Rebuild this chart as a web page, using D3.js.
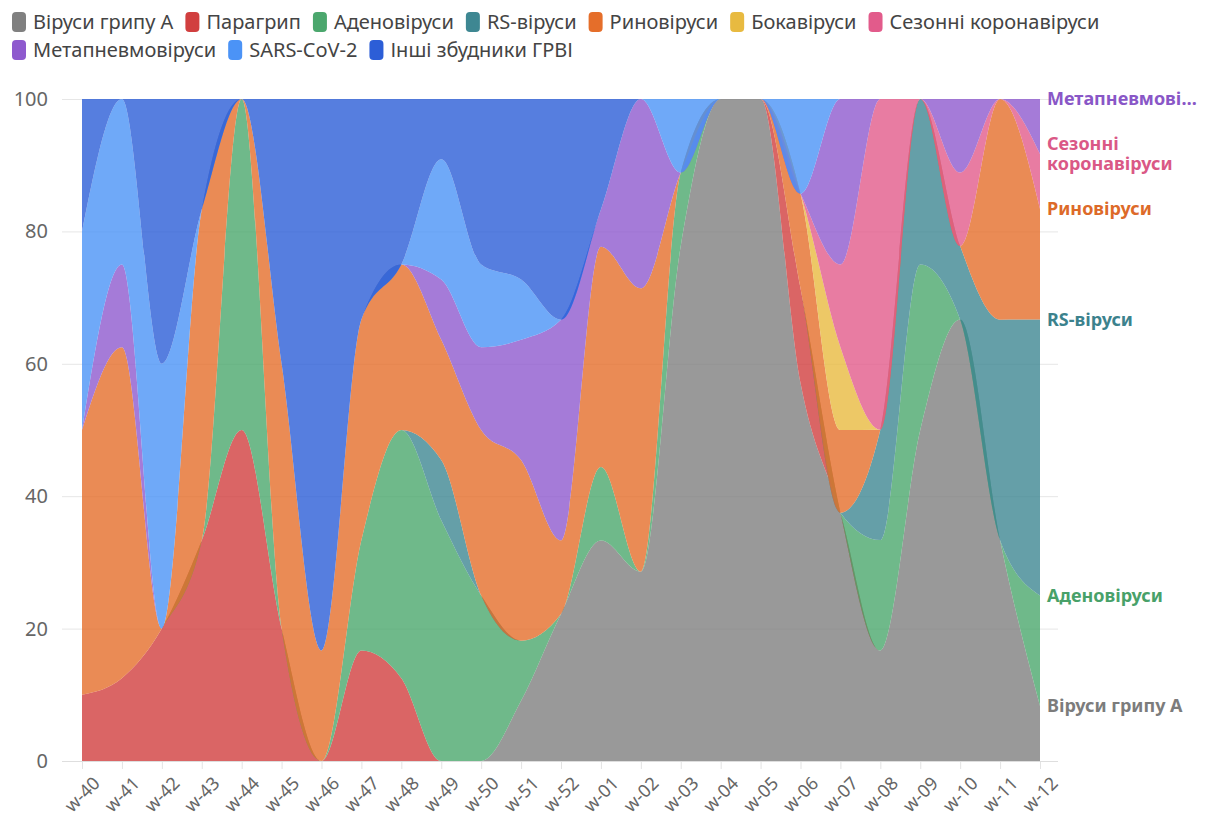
<!DOCTYPE html>
<html>
<head>
<meta charset="utf-8">
<script src="https://cdn.jsdelivr.net/npm/d3@7/dist/d3.min.js"></script>
<style>
  body { margin: 0; background: #fff; }
  svg { font-family: "Noto Sans", sans-serif; }
</style>
</head>
<body>
<svg id="chart" width="1221" height="822"></svg>
<script>
// weeks on the x axis
const weeks = ["w-40","w-41","w-42","w-43","w-44","w-45","w-46","w-47","w-48","w-49","w-50","w-51","w-52",
               "w-01","w-02","w-03","w-04","w-05","w-06","w-07","w-08","w-09","w-10","w-11","w-12"];

const seriesNames = ["Віруси грипу А","Парагрип","Аденовіруси","RS-віруси","Риновіруси","Бокавіруси",
                     "Сезонні коронавіруси","Метапневмовіруси","SARS-CoV-2","Інші збудники ГРВІ"];
const colors = ["#808080","#d13f3f","#4ba76d","#3e8792","#e56e2a","#e8ba40","#e25b8b","#8e5ace","#4b93f6","#2c5ed7"];

// share of positive samples, % (bottom to top of the stack)
const fluA      = [0,0,0,0,0,0,0,0,0,0,0,9.1,22.2,33.3,28.6,77.8,100,100,57.1,37.5,16.7,50,66.7,33.3,8.3];
const paraflu   = [10,12.5,20,33.3,50,20,0,16.7,12.5,0,0,0,0,0,0,0,0,0,14.3,0,0,0,0,0,0];
const adeno     = [0,0,0,0,50,0,0,16.7,37.5,36.4,25,9.1,0,11.1,0,11.1,0,0,0,0,16.7,25,0,0,16.7];
const rsv       = [0,0,0,0,0,0,0,0,0,9.1,0,0,0,0,0,0,0,0,0,0,16.7,25,11.1,33.3,41.7];
const rhino     = [40,50,0,50,0,40,16.7,33.3,25,18.2,25,27.3,11.1,33.3,42.8,0,0,0,14.3,12.5,0,0,0,33.3,16.7];
const boca      = [0,0,0,0,0,0,0,0,0,0,0,0,0,0,0,0,0,0,0,12.5,0,0,0,0,0];
const seasonCov = [0,0,0,0,0,0,0,0,0,0,0,0,0,0,0,0,0,0,0,12.5,50,0,11.1,0,8.3];
const metapneumo= [0,12.5,0,0,0,0,0,0,0,9.1,12.5,18.2,33.3,5.6,28.6,0,0,0,0,25,0,0,11.1,0,8.3];
const sarsCov2  = [30,25,40,0,0,0,0,0,0,18.2,12.5,9.1,0,0,0,11.1,0,0,14.3,0,0,0,0,0,0];
const otherArvi = [20,0,40,16.7,0,40,83.3,33.3,25,9.1,25,27.3,33.3,16.7,0,0,0,0,0,0,0,0,0,0,0];

const yTicks = [0,20,40,60,80,100];

const seriesValues = [fluA, paraflu, adeno, rsv, rhino, boca, seasonCov, metapneumo, sarsCov2, otherArvi];

const table = weeks.map((w, i) => {
    const row = { week: w };
    seriesNames.forEach((s, k) => { row[s] = seriesValues[k][i]; });
    return row;
});

const margin = { left: 82, right: 1040, top: 99, bottom: 761 };
const svg = d3.select("#chart");

const x = d3.scalePoint().domain(weeks).range([margin.left, margin.right]);
const y = d3.scaleLinear().domain([0, 100]).range([margin.bottom, margin.top]);

const stack = d3.stack().keys(seriesNames).offset(d3.stackOffsetExpand);
const layers = stack(table);

// grid + y axis
const gridLeft = 62, gridRight = 1058;
const yAxis = svg.append("g")
    .attr("transform", "translate(" + gridLeft + ",0)")
    .call(d3.axisLeft(y).tickValues(yTicks).tickSize(-(gridRight - gridLeft)).tickPadding(14));
yAxis.select(".domain").remove();
yAxis.selectAll(".tick line").attr("stroke", "#e6e6e6");
yAxis.selectAll(".tick text")
    .attr("fill", "#666")
    .style("font-size", "20px")
    .style("font-family", "'Noto Sans', sans-serif");

// areas
const area = d3.area()
    .x(d => x(d.data.week))
    .y0(d => y(d[0] * 100))
    .y1(d => y(d[1] * 100))
    .curve(d3.curveMonotoneX);

svg.append("g").selectAll("path")
    .data(layers)
    .join("path")
    .attr("d", area)
    .attr("fill", (d, i) => colors[i])
    .attr("fill-opacity", 0.8);

// x axis
const xAxis = svg.append("g")
    .attr("transform", "translate(0," + margin.bottom + ")")
    .call(d3.axisBottom(x).tickSize(8));
xAxis.select(".domain").remove();
xAxis.append("line")
    .attr("x1", gridLeft).attr("x2", gridRight)
    .attr("y1", 0.5).attr("y2", 0.5)
    .attr("stroke", "#dedede");
xAxis.selectAll(".tick line").attr("stroke", "#e3e3e3");
xAxis.selectAll(".tick text")
    .attr("fill", "#666")
    .style("font-size", "18px")
    .style("font-family", "'Noto Sans', sans-serif")
    .attr("text-anchor", "end")
    .attr("x", 0).attr("y", 0)
    .attr("dy", "0.35em")
    .attr("transform", "translate(14,19) rotate(-45)");

// legend (flow layout)
const legend = svg.append("g").attr("class", "legend");
let lx = 12, ly = 22;
const maxLegendX = 1205;
seriesNames.forEach((name, i) => {
    const item = legend.append("g");
    item.append("rect")
        .attr("y", -10).attr("width", 14).attr("height", 20)
        .attr("rx", 4).attr("fill", colors[i]);
    const t = item.append("text")
        .attr("x", 21).attr("dy", "0.35em")
        .attr("fill", "#444")
        .style("font-size", "20px")
        .text(name);
    const w = 21 + t.node().getComputedTextLength();
    if (lx + w > maxLegendX) { lx = 12; ly += 28; }
    item.attr("transform", "translate(" + lx + "," + ly + ")");
    lx += w + 12;
});

// direct labels on the right
const labelX = 1047, labelMax = 158;
const last = weeks.length - 1;
const labels = svg.append("g").attr("font-weight", "bold").style("font-size", "18px");
layers.forEach((layer, i) => {
    const d = layer[last];
    if (d[1] - d[0] <= 0) return;
    const t = labels.append("text")
        .attr("x", labelX)
        .attr("fill", d3.color(colors[i]).darker(0.1));
    // wrap by words, truncate single long words
    const words = seriesNames[i].split(" ");
    const lines = [];
    let cur = "";
    const probe = labels.append("text");
    const measure = s => { probe.text(s); return probe.node().getComputedTextLength(); };
    words.forEach(wd => {
        const test = cur ? cur + " " + wd : wd;
        if (measure(test) <= labelMax || !cur) cur = test;
        else { lines.push(cur); cur = wd; }
    });
    lines.push(cur);
    for (let k = 0; k < lines.length; k++) {
        let s = lines[k];
        if (measure(s) > labelMax) {
            while (s.length > 1 && measure(s + "…") > labelMax) s = s.slice(0, -1);
            lines[k] = s + "…";
        }
    }
    probe.remove();
    const cy = y(d[1] * 100);
    const lh = 20;
    lines.forEach((s, k) => {
        t.append("tspan")
            .attr("x", labelX)
            .attr("y", cy + (k - (lines.length - 1) / 2) * lh)
            .attr("dy", "0.35em")
            .text(s);
    });
});
</script>
</body>
</html>
